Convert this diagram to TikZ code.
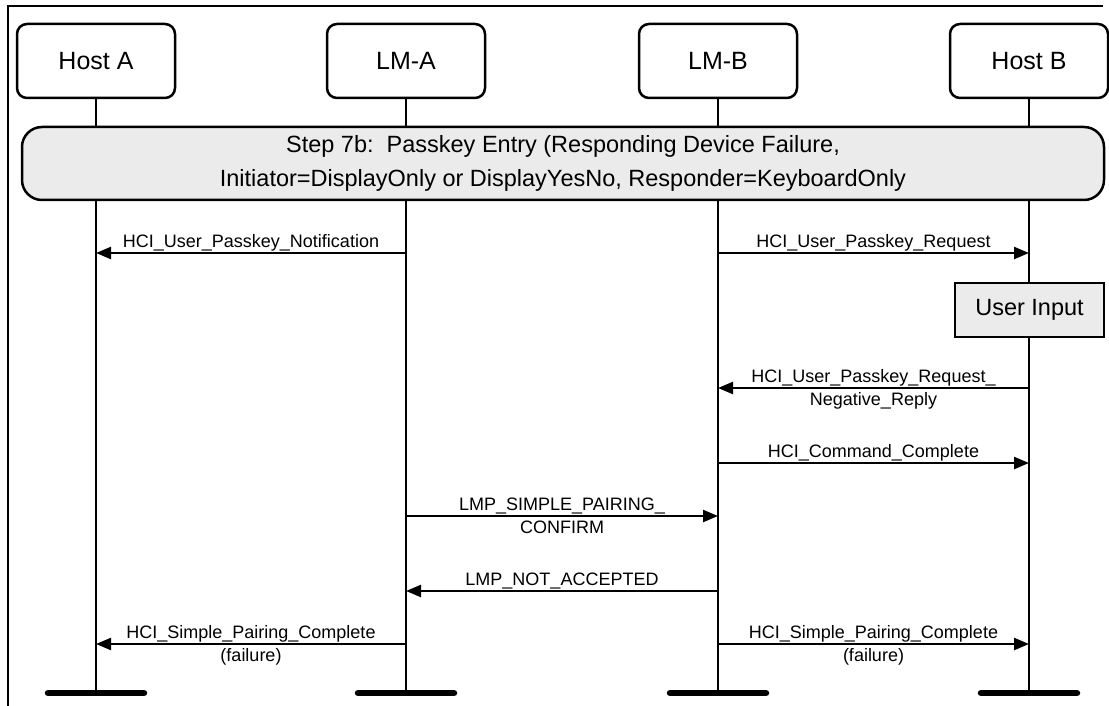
\documentclass[tikz,border=0pt]{standalone}
\usepackage{fontspec}
\setmainfont{Liberation Sans}
\usetikzlibrary{arrows.meta}
\definecolor{boxgray}{RGB}{235,235,235}
\begin{document}
\begin{tikzpicture}[x=1pt,y=-1pt,
  host/.style={draw, line width=2.5pt, rounded corners=10pt, fill=white,
    minimum width=158pt, minimum height=74pt, inner sep=0pt,
    font=\fontsize{25}{30}\selectfont},
  stepbox/.style={draw, line width=2.5pt, rounded corners=20pt, fill=boxgray,
    minimum width=1082pt, minimum height=73pt, inner sep=0pt, align=center,
    font=\fontsize{23.5}{34}\selectfont},
  inputbox/.style={draw, line width=2.5pt, fill=boxgray,
    minimum width=149pt, minimum height=54pt, inner sep=0pt,
    font=\fontsize{23.5}{28}\selectfont},
  lifeline/.style={line width=2.8pt},
  bar/.style={line width=6.5pt, line cap=round},
  frame/.style={line width=2.5pt},
  msg/.style={line width=2.4pt, -{Triangle[length=15pt,width=12pt]}},
  lbl/.style={font=\fontsize{18}{20}\selectfont, inner sep=0pt, anchor=base},
  above lbl/.style={lbl, yshift=6pt},
  below lbl/.style={lbl, yshift=-17pt}
]
\useasboundingbox (0,0) rectangle (1109,706);

% frame
\coordinate (f1) at (8,706);
\coordinate (f2) at (8,6);
\coordinate (f3) at (1103,6);
\draw[frame] (f1) -- (f2) -- (f3);

% participants
\node[host] (hA) at (96,61) {Host A};
\node[host] (lA) at (406,61) {LM-A};
\node[host] (lB) at (718,61) {LM-B};
\node[host] (hB) at (1029,61) {Host B};

% lifeline ends
\coordinate (hAb) at (96,693);
\coordinate (lAb) at (406,693);
\coordinate (lBb) at (718,693);
\coordinate (hBb) at (1029,693);

\draw[lifeline] (hA.south) -- (hAb);
\draw[lifeline] (lA.south) -- (lAb);
\draw[lifeline] (lB.south) -- (lBb);
\draw[lifeline] (hB.south) -- (hBb);

% bottom bars
\draw[bar] (hAb) ++(-48,0) -- ++(96,0);
\draw[bar] (lAb) ++(-48,0) -- ++(96,0);
\draw[bar] (lBb) ++(-48,0) -- ++(96,0);
\draw[bar] (hBb) ++(-48,0) -- ++(96,0);

% step box
\node[stepbox] (step) at (563,163.5)
  {\raisebox{-2pt}{Step 7b:~~Passkey Entry (Responding Device Failure,}\\
   \raisebox{-2pt}{Initiator=DisplayOnly or DisplayYesNo, Responder=KeyboardOnly}};

% user input
\node[inputbox] (ui) at (1029.5,310) {User Input};

% messages
\coordinate (m1s) at (406,253); \coordinate (m1e) at (96,253);
\draw[msg] (m1s) -- node[pos=.5, above lbl] {HCI\_User\_Passkey\_Notification} (m1e);

\coordinate (m2s) at (718,253); \coordinate (m2e) at (1029,253);
\draw[msg] (m2s) -- node[pos=.5, above lbl] {HCI\_User\_Passkey\_Request} (m2e);

\coordinate (m3s) at (1029,388); \coordinate (m3e) at (718,388);
\draw[msg] (m3s) -- node[pos=.5, above lbl] {HCI\_User\_Passkey\_Request\_}
  node[pos=.5, below lbl] {Negative\_Reply} (m3e);

\coordinate (m4s) at (718,463); \coordinate (m4e) at (1029,463);
\draw[msg] (m4s) -- node[pos=.5, above lbl] {HCI\_Command\_Complete} (m4e);

\coordinate (m5s) at (406,516); \coordinate (m5e) at (718,516);
\draw[msg] (m5s) -- node[pos=.5, above lbl] {LMP\_SIMPLE\_PAIRING\_}
  node[pos=.5, below lbl] {CONFIRM} (m5e);

\coordinate (m6s) at (718,591); \coordinate (m6e) at (406,591);
\draw[msg] (m6s) -- node[pos=.5, above lbl] {LMP\_NOT\_ACCEPTED} (m6e);

\coordinate (m7s) at (406,644); \coordinate (m7e) at (96,644);
\draw[msg] (m7s) -- node[pos=.5, above lbl] {HCI\_Simple\_Pairing\_Complete}
  node[pos=.5, below lbl] {(failure)} (m7e);

\coordinate (m8s) at (718,644); \coordinate (m8e) at (1029,644);
\draw[msg] (m8s) -- node[pos=.5, above lbl] {HCI\_Simple\_Pairing\_Complete}
  node[pos=.5, below lbl] {(failure)} (m8e);
\end{tikzpicture}
\end{document}
